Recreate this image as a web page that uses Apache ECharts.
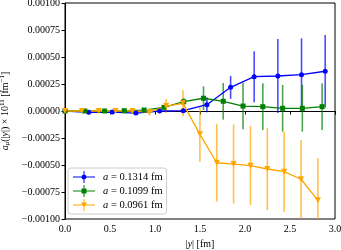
<!DOCTYPE html>
<html><head><meta charset="utf-8">
<script src="https://cdn.jsdelivr.net/npm/echarts@6/dist/echarts.min.js"></script>
<style>html,body{margin:0;padding:0;background:#fff}#c{width:341px;height:250px}</style>
</head><body><div id="c"></div>
<script>
// |y| [fm] positions
const xBlue   = [0, 0.263, 0.526, 0.788, 1.051, 1.314, 1.577, 1.840, 2.102, 2.365, 2.628, 2.891];
const yBlue   = [0, -0.000012, -0.00001, -0.000019, 0, 0.000003, 0.000058, 0.000219, 0.000318, 0.000324, 0.000336, 0.000368];
const eBlue   = [0, 0.000005, 0.000005, 0.000008, 0.00001, 0.00002, 0.00007, 0.000106, 0.000236, 0.000343, 0.000337, 0.000336];

const xGreen  = [0, 0.22, 0.44, 0.659, 0.879, 1.099, 1.319, 1.539, 1.758, 1.978, 2.198, 2.418, 2.637, 2.857];
const yGreen  = [0, 0, 0, 0.000003, 0.000009, 0.000034, 0.000086, 0.000118, 0.00009, 0.000046, 0.00004, 0.000025, 0.000025, 0.00004];
const eGreen  = [0, 0.000003, 0.000004, 0.000005, 0.000008, 0.000015, 0.000035, 0.00011, 0.00017, 0.000216, 0.000216, 0.000216, 0.000216, 0.000216];

const xOrange = [0, 0.187, 0.375, 0.562, 0.749, 0.937, 1.124, 1.311, 1.499, 1.686, 1.873, 2.061, 2.248, 2.435, 2.623, 2.810];
const yOrange = [0, 0, 0, 0, 0, -0.00001, 0.000046, 0.000071, -0.000216, -0.000479, -0.000491, -0.000506, -0.000537, -0.000562, -0.000632, -0.000827];
const eOrange = [0, 0.000003, 0.000004, 0.000005, 0.000008, 0.00003, 0.000065, 0.00012, 0.000255, 0.00036, 0.000366, 0.000366, 0.00038, 0.000373, 0.000364, 0.00039];

const names = ['a = 0.1314 fm', 'a = 0.1099 fm', 'a = 0.0961 fm'];
const legendText = ['0.1314 fm', '0.1099 fm', '0.0961 fm'];

const colors = ['#0000ff', '#008000', '#ffa500'];
const FONT = 'Liberation Serif';

const sets = [
  {x: xBlue, y: yBlue, e: eBlue, sym: 'circle', size: 5, rot: 0},
  {x: xGreen, y: yGreen, e: eGreen, sym: 'rect', size: 5, rot: 0},
  {x: xOrange, y: yOrange, e: eOrange, sym: 'triangle', size: 6, rot: 180}
];

const icons = [
  'path://M0 5.5H22V6.5H0Z M10.5 0H11.5V12H10.5Z M11 3.5A2.5 2.5 0 1 1 10.99 3.5Z',
  'path://M0 5.5H22V6.5H0Z M10.5 0H11.5V12H10.5Z M8.5 3.5H13.5V8.5H8.5Z',
  'path://M0 5.5H22V6.5H0Z M10.5 0H11.5V12H10.5Z M8 3.5H14L11 8.5Z'
];

const series = [];
sets.forEach((s, i) => {
  series.push({
    type: 'custom',
    name: names[i] + ' err',
    clip: true,
    z: 2,
    data: s.x.map((xv, k) => [xv, s.y[k], s.e[k]]),
    encode: {x: 0, y: 1},
    renderItem: function (params, api) {
      const xv = api.value(0), yv = api.value(1), ev = api.value(2);
      const p1 = api.coord([xv, yv - ev]);
      const p2 = api.coord([xv, yv + ev]);
      return {type: 'line', shape: {x1: p1[0], y1: p1[1], x2: p2[0], y2: p2[1]},
              style: {stroke: colors[i], lineWidth: 1.6, opacity: 0.7}};
    },
    silent: true
  });
});
sets.forEach((s, i) => {
  series.push({
    type: 'line',
    name: names[i],
    z: 3,
    data: s.x.map((xv, k) => [xv, s.y[k]]),
    symbol: s.sym,
    symbolSize: s.size,
    symbolRotate: s.rot,
    showSymbol: true,
    lineStyle: {color: colors[i], width: 1.3},
    itemStyle: {color: colors[i]},
    markLine: i === 0 ? {
      silent: true, symbol: ['none', 'none'], label: {show: false},
      lineStyle: {color: '#000', width: 1.2, type: 'solid'},
      data: [{yAxis: 0}], z: 1
    } : undefined
  });
});

const chart = echarts.init(document.getElementById('c'), null, {renderer: 'canvas'});
chart.setOption({
  animation: false,
  backgroundColor: '#fff',
  grid: {left: 65, right: 6, top: 3, bottom: 31, show: true, borderColor: '#000', borderWidth: 1,
         containLabel: false, outerBoundsMode: 'none'},
  xAxis: {
    type: 'value', min: 0, max: 3, interval: 0.5,
    axisLine: {show: true, lineStyle: {color: '#000', width: 1}},
    axisTick: {show: true, length: 3.5, lineStyle: {color: '#000'}},
    splitLine: {show: false},
    axisLabel: {color: '#000', fontFamily: FONT, fontSize: 10, margin: 5, formatter: v => v.toFixed(1)},
    name: '{n||}{i|y}{n|| [fm]}',
    nameLocation: 'middle', nameGap: 19,
    nameTextStyle: {color: '#000', fontFamily: FONT, fontSize: 10,
      rich: {n: {fontFamily: FONT, fontSize: 10, color: '#000'}, i: {fontFamily: FONT, fontSize: 10, fontStyle: 'italic', color: '#000'}}}
  },
  yAxis: {
    type: 'value', min: -0.001, max: 0.001, interval: 0.00025,
    axisLine: {show: true, lineStyle: {color: '#000', width: 1}},
    axisTick: {show: true, length: 3.5, lineStyle: {color: '#000'}},
    splitLine: {show: false},
    axisLabel: {color: '#000', fontFamily: FONT, fontSize: 10, margin: 5,
      formatter: v => (v < -1e-12 ? '\u2212' : '') + Math.abs(v).toFixed(5)},
    name: '{i|a}{sub|\u03bc}{n|(|}{i|y}{n||) \u00d7 10}{sup|11}{n| [fm}{sup|\u22121}{n|]}',
    nameLocation: 'middle', nameGap: 52, nameRotate: 90,
    nameTextStyle: {color: '#000', fontFamily: FONT, fontSize: 10,
      rich: {
        n: {fontFamily: FONT, fontSize: 10, color: '#000'},
        i: {fontFamily: FONT, fontSize: 10, fontStyle: 'italic', color: '#000'},
        sub: {fontFamily: FONT, fontSize: 7, fontStyle: 'italic', color: '#000', padding: [5, 0, 0, 0]},
        sup: {fontFamily: FONT, fontSize: 7, color: '#000', padding: [0, 0, 6, 0]}
      }}
  },
  legend: {
    orient: 'vertical', left: 68, top: 168,
    itemWidth: 22, itemHeight: 12, itemGap: 2,
    backgroundColor: '#fff', borderColor: '#ccc', borderWidth: 1, borderRadius: 3,
    padding: [3, 4, 3, 5],
    data: names.map((n, i) => ({name: n, icon: icons[i], itemStyle: {color: colors[i]}})),
    formatter: function (n) { return '{i|a}{n| = ' + legendText[names.indexOf(n)] + '}'; },
    textStyle: {fontFamily: FONT, fontSize: 10.5, color: '#000', padding: [0, 0, 0, 3],
      rich: {n: {fontFamily: FONT, fontSize: 10.5, color: '#000'}, i: {fontFamily: FONT, fontSize: 10.5, fontStyle: 'italic', color: '#000'}}}
  },
  series: series
});
</script>
</body></html>
